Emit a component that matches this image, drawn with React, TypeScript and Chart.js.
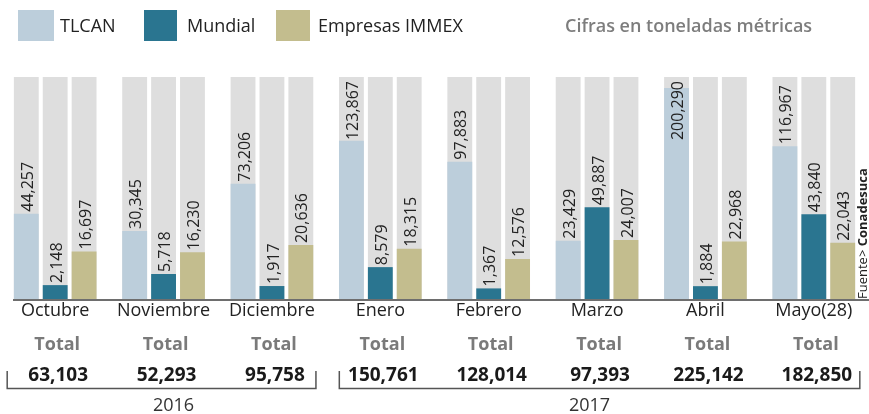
import React, { useEffect, useRef } from 'react';
import { Chart, registerables, LinearScale } from 'chart.js';

const categories = ['Octubre', 'Noviembre', 'Diciembre', 'Enero', 'Febrero', 'Marzo', 'Abril', 'Mayo(28)'];
const seriesNames = ['TLCAN', 'Mundial', 'Empresas IMMEX'];
const tlcan = [44257, 30345, 73206, 123867, 97883, 23429, 200290, 116967];
const mundial = [2148, 5718, 1917, 8579, 1367, 49887, 1884, 43840];
const immex = [16697, 16230, 20636, 18315, 12576, 24007, 22968, 22043];
const totals = ['63,103', '52,293', '95,758', '150,761', '128,014', '97,393', '225,142', '182,850'];
const years = ['2016', '2017'];
const yearFirst = [0, 3];
const yearLast = [2, 7];
const unitNote = 'Cifras en toneladas métricas';
const sourceLead = 'Fuente> ';
const sourceName = 'Conadesuca';

const COLORS = ['#bccedb', '#2a7590', '#c3bd8e'];
const GRAY = '#dedede';
const FONT = '"Open Sans", "Noto Sans", sans-serif';
const EXP = 0.6;

class PowScale extends LinearScale {
  static id = 'pow';
  static defaults = LinearScale.defaults;
  getPixelForValue(value: number) {
    const lo = Math.pow(Math.max(this.min, 0), EXP);
    const hi = Math.pow(Math.max(this.max, 0), EXP);
    const v = Math.pow(Math.max(value, 0), EXP);
    return this.getPixelForDecimal((v - lo) / (hi - lo));
  }
  getValueForPixel(pixel: number) {
    const lo = Math.pow(Math.max(this.min, 0), EXP);
    const hi = Math.pow(Math.max(this.max, 0), EXP);
    const d = this.getDecimalForPixel(pixel);
    return Math.pow(lo + d * (hi - lo), 1 / EXP);
  }
}

Chart.register(...registerables, PowScale as any);

const fmt = (n: number) => n.toLocaleString('en-US');

const decor = {
  id: 'decor',
  beforeDatasetsDraw(chart: any) {
    const { ctx, chartArea } = chart;
    ctx.save();
    ctx.fillStyle = GRAY;
    chart.data.datasets.forEach((_: any, di: number) => {
      chart.getDatasetMeta(di).data.forEach((bar: any) => {
        ctx.fillRect(bar.x - bar.width / 2, chartArea.top, bar.width, bar.base - chartArea.top);
      });
    });
    ctx.restore();
  },
  afterDatasetsDraw(chart: any) {
    const { ctx, chartArea } = chart;
    ctx.save();
    // baseline
    ctx.fillStyle = '#6e6e6e';
    ctx.fillRect(13, chartArea.bottom, chart.width - 13, 2);
    // value labels
    ctx.fillStyle = '#222';
    ctx.font = `16px ${FONT}`;
    ctx.textAlign = 'left';
    ctx.textBaseline = 'middle';
    chart.data.datasets.forEach((ds: any, di: number) => {
      chart.getDatasetMeta(di).data.forEach((bar: any, i: number) => {
        const txt = fmt(ds.data[i]);
        const w = ctx.measureText(txt).width;
        let start = bar.y - 2;
        if (start - w < chartArea.top + 4) start = chartArea.top + 4 + w;
        ctx.save();
        ctx.translate(bar.x + 2, start);
        ctx.rotate(-Math.PI / 2);
        ctx.fillText(txt, 0, 0);
        ctx.restore();
      });
    });
    ctx.restore();
  },
  afterDraw(chart: any) {
    const { ctx, chartArea } = chart;
    const xs = chart.scales.x;
    ctx.save();
    // legend
    const boxes = [[18, 36], [144, 33], [276, 34]];
    const textX = [60, 187, 318];
    ctx.textBaseline = 'middle';
    ctx.textAlign = 'left';
    ctx.font = `18px ${FONT}`;
    seriesNames.forEach((name, k) => {
      ctx.fillStyle = COLORS[k];
      ctx.fillRect(boxes[k][0], 10, boxes[k][1], 31);
      ctx.fillStyle = '#222';
      ctx.fillText(name, textX[k], 27);
    });
    ctx.fillStyle = '#7d7d7d';
    ctx.font = `600 18px ${FONT}`;
    ctx.fillText(unitNote, 565, 27);

    // category labels and totals
    ctx.textAlign = 'center';
    categories.forEach((c, i) => {
      const x = xs.getPixelForValue(i);
      ctx.fillStyle = '#222';
      ctx.font = `18px ${FONT}`;
      ctx.fillText(c, x, 311);
      ctx.fillStyle = '#7a7a7a';
      ctx.font = `bold 18px ${FONT}`;
      ctx.fillText('Total', x + 2, 345);
      ctx.fillStyle = '#1a1a1a';
      ctx.font = `bold 19px ${FONT}`;
      ctx.fillText(totals[i], x + 3, 376);
    });

    // year brackets
    ctx.strokeStyle = '#555';
    ctx.lineWidth = 1.5;
    const leftOff = [48, 41];
    const rightOff = [44, 46];
    const yearShift = [12, -10];
    years.forEach((y, k) => {
      const x0 = xs.getPixelForValue(yearFirst[k]) - leftOff[k];
      const x1 = xs.getPixelForValue(yearLast[k]) + rightOff[k];
      ctx.beginPath();
      ctx.moveTo(x0, 371);
      ctx.lineTo(x0, 388.5);
      ctx.lineTo(x1, 388.5);
      ctx.lineTo(x1, 371);
      ctx.stroke();
      ctx.fillStyle = '#333';
      ctx.font = `18px ${FONT}`;
      ctx.fillText(y, (x0 + x1) / 2 + yearShift[k], 406);
    });

    // source
    ctx.save();
    ctx.translate(863, chartArea.bottom);
    ctx.rotate(-Math.PI / 2);
    ctx.textAlign = 'left';
    ctx.fillStyle = '#222';
    ctx.font = `13px ${FONT}`;
    ctx.fillText(sourceLead, 0, 0);
    const lw = ctx.measureText(sourceLead).width;
    ctx.font = `bold 13px ${FONT}`;
    ctx.fillText(sourceName, lw, 0);
    ctx.restore();

    ctx.restore();
  },
};

export default function App() {
  const ref = useRef<HTMLCanvasElement>(null);
  useEffect(() => {
    if (!ref.current) return;
    const chart = new Chart(ref.current, {
      type: 'bar',
      data: {
        labels: categories,
        datasets: [
          { label: seriesNames[0], data: tlcan, backgroundColor: COLORS[0] },
          { label: seriesNames[1], data: mundial, backgroundColor: COLORS[1] },
          { label: seriesNames[2], data: immex, backgroundColor: COLORS[2] },
        ],
      },
      options: {
        responsive: false,
        animation: false,
        devicePixelRatio: 1,
        layout: { padding: { left: 1, right: 1, top: 77, bottom: 115 } },
        datasets: { bar: { categoryPercentage: 0.8, barPercentage: 0.86 } },
        scales: {
          x: { display: false },
          y: { type: 'pow' as any, display: false, min: 0, max: 218000 },
        },
        plugins: { legend: { display: false }, tooltip: { enabled: false } },
      },
      plugins: [decor],
    });
    return () => chart.destroy();
  }, []);
  return (
    <div style={{ position: 'absolute', left: 0, top: 0, width: 869, height: 414, background: '#fff' }}>
      <canvas ref={ref} width={869} height={414} style={{ display: 'block' }} />
    </div>
  );
}
